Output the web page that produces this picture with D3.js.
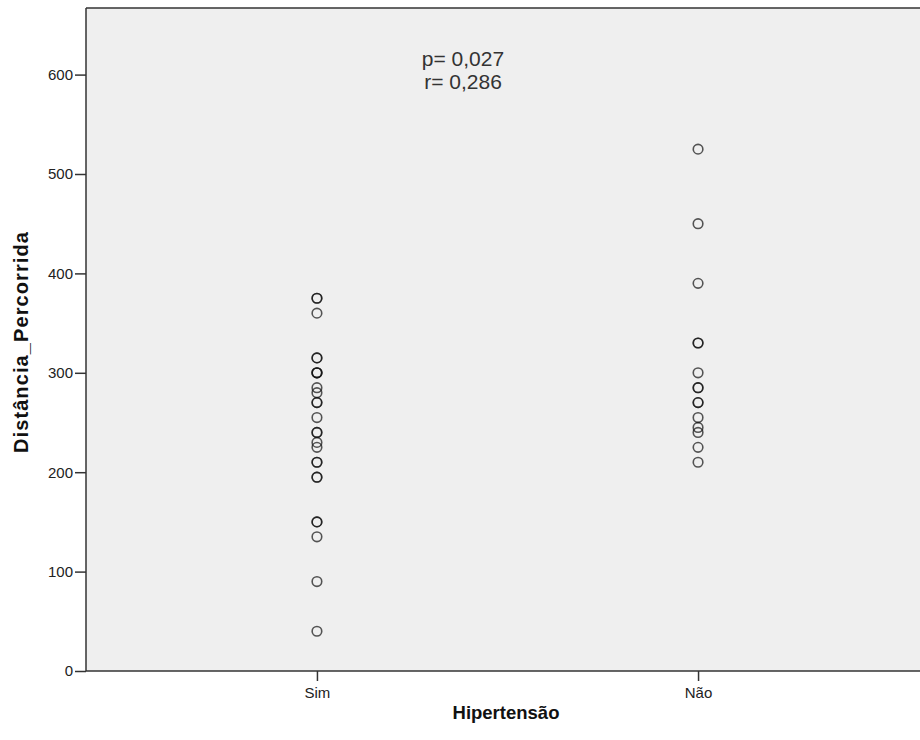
<!DOCTYPE html>
<html>
<head>
<meta charset="utf-8">
<script src="https://cdn.jsdelivr.net/npm/d3@7"></script>
<style>
  body { margin: 0; background: #fff; }
  svg text { font-family: Arial, "Liberation Sans", sans-serif; }
</style>
</head>
<body>
<script>
// categories and values
const categories = ["Sim", "Não"];
const simValues = [375, 375, 360, 315, 315, 300, 300, 300, 285, 280, 270, 270, 255,
  240, 240, 230, 225, 210, 210, 195, 195, 150, 150, 135, 90, 40];
const naoValues = [525, 450, 390, 330, 330, 300, 285, 285, 270, 270, 255, 245, 240, 225, 210];
const yTicks = [0, 100, 200, 300, 400, 500, 600];
const annotation = ["p= 0,027", "r= 0,286"];

const w = 920;
const h = 740;
const plotLeft = 86, plotTop = 8, plotBottom = 671, plotRight = 929;

const svg = d3.select("body")
  .append("svg")
  .attr("width", w)
  .attr("height", h);

const x = d3.scalePoint()
  .domain(categories)
  .range([plotLeft, plotRight])
  .padding(0.606);

const y = d3.scaleLinear()
  .domain([0, 667])
  .range([plotBottom, plotTop]);

// plot background
svg.append("rect")
  .attr("x", plotLeft)
  .attr("y", plotTop)
  .attr("width", plotRight - plotLeft)
  .attr("height", plotBottom - plotTop)
  .attr("fill", "#efefef");

// top frame line
svg.append("line")
  .attr("x1", plotLeft).attr("x2", plotRight)
  .attr("y1", plotTop).attr("y2", plotTop)
  .attr("stroke", "#333").attr("stroke-width", 1.5);

// y axis
const yAxis = svg.append("g")
  .attr("transform", `translate(${plotLeft},0)`)
  .call(d3.axisLeft(y).tickValues(yTicks).tickSize(11).tickPadding(2).tickFormat(d3.format("d")));
yAxis.select(".domain").attr("stroke", "#333").attr("stroke-width", 1.5)
  .attr("d", `M0,${plotBottom}V${plotTop}`);
yAxis.selectAll(".tick line").attr("stroke", "#333").attr("stroke-width", 1.5);
yAxis.selectAll(".tick text").attr("font-size", "15px").attr("fill", "#222");

// x axis
const xAxis = svg.append("g")
  .attr("transform", `translate(0,${plotBottom})`)
  .call(d3.axisBottom(x).tickSize(10).tickPadding(6));
xAxis.select(".domain").attr("stroke", "#333").attr("stroke-width", 1.5)
  .attr("d", `M${plotLeft},0H${plotRight}`);
xAxis.selectAll(".tick line").attr("stroke", "#333").attr("stroke-width", 1.5);
xAxis.selectAll(".tick text").attr("font-size", "15px").attr("fill", "#222");

// points
const points = [];
simValues.forEach(v => points.push({cat: "Sim", v: v}));
naoValues.forEach(v => points.push({cat: "Não", v: v}));

svg.selectAll("circle.pt")
  .data(points)
  .enter()
  .append("circle")
  .attr("class", "pt")
  .attr("cx", d => x(d.cat))
  .attr("cy", d => y(d.v))
  .attr("r", 4.8)
  .attr("fill", "none")
  .attr("stroke", "#111")
  .attr("stroke-opacity", 0.7)
  .attr("stroke-width", 1.6);

// annotation
svg.selectAll("text.note")
  .data(annotation)
  .enter()
  .append("text")
  .attr("class", "note")
  .attr("x", 463)
  .attr("y", (d, i) => 66 + i * 23)
  .attr("text-anchor", "middle")
  .attr("font-size", "21px")
  .attr("fill", "#333")
  .text(d => d);

// axis titles
svg.append("text")
  .attr("x", 506)
  .attr("y", 719)
  .attr("text-anchor", "middle")
  .attr("font-size", "18.5px")
  .attr("font-weight", "bold")
  .attr("fill", "#111")
  .text("Hipertensão");

svg.append("text")
  .attr("transform", "translate(28,342) rotate(-90)")
  .attr("text-anchor", "middle")
  .attr("font-size", "20px")
  .attr("letter-spacing", "1.1px")
  .attr("font-weight", "bold")
  .attr("fill", "#111")
  .text("Distância_Percorrida");
</script>
</body>
</html>
